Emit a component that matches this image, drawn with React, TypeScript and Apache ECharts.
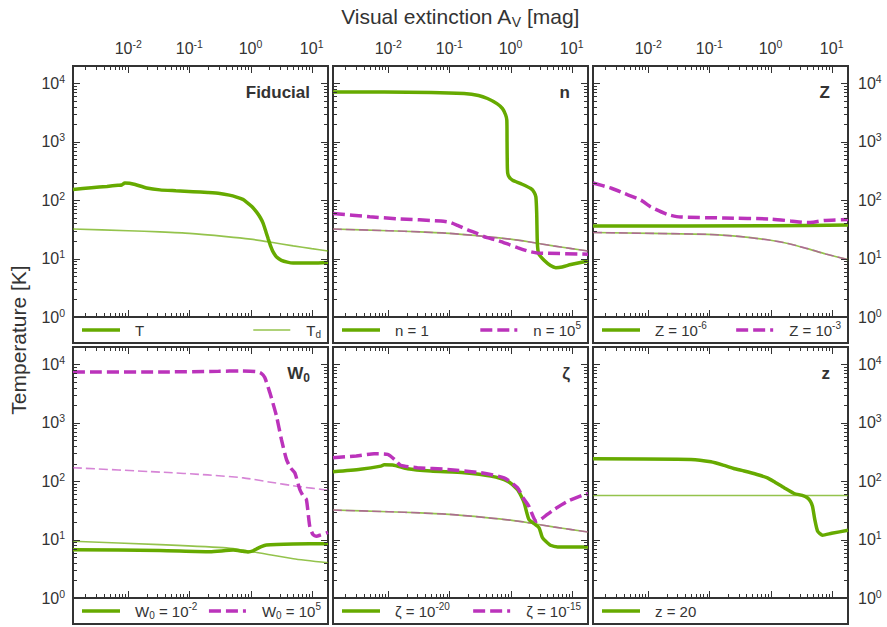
import React, { useEffect, useRef } from 'react';
import * as echarts from 'echarts';

const FONT = '"Liberation Sans", Arial, Helvetica, sans-serif';
const INK = '#333333';
const GREEN = '#66aa00';
const MAGENTA = '#bb33bb';

// Axis ranges and ticks
const X_MIN = 0.00125;
const X_MAX = 18.5;
const Y_MIN = 1;
const Y_MAX = 19800;
const X_DECADES = [-3, -2, -1, 0, 1];
const Y_DECADES = [0, 1, 2, 3, 4];
const MINOR_STEPS = [2, 3, 4, 5, 6, 7, 8, 9];

// Texts
const X_TITLE = 'Visual extinction A{sub|V} [mag]';
const Y_TITLE = 'Temperature [K]';
const PANEL_TITLES = ['Fiducial', 'n', 'Z', 'W{sub|0}', 'ζ', 'z'];
const LEGEND_LEFT = ['T', 'n = 1', 'Z = 10{sup|-6}', 'W{sub|0} = 10{sup|-2}', 'ζ = 10{sup|-20}', 'z = 20'];
const LEGEND_RIGHT = ['T{sub|d}', 'n = 10{sup|5}', 'Z = 10{sup|-3}', 'W{sub|0} = 10{sup|5}', 'ζ = 10{sup|-15}', ''];

type Pt = [number, number];

// Fiducial
const fiducialT: Pt[] = [[0.00125, 152], [0.0025, 163], [0.0045, 172], [0.0068, 180], [0.0078, 182], [0.0088, 196], [0.0105, 195], [0.013, 185], [0.02, 162], [0.033, 150], [0.06, 145], [0.115, 140], [0.2, 135], [0.315, 130], [0.45, 122], [0.59, 113], [0.75, 103], [0.86, 93], [1.05, 78], [1.25, 63], [1.45, 50], [1.61, 40], [1.8, 28], [1.94, 22], [2.15, 16], [2.34, 13], [2.7, 10.5], [3.2, 9.35], [4.0, 8.7], [4.97, 8.4], [10.5, 8.4], [18.5, 8.6]];
const fiducialTd: Pt[] = [[0.00125, 32], [0.01, 30], [0.033, 28.6], [0.1, 27], [0.4, 23.8], [1, 21.5], [2.07, 19.2], [5, 16.5], [10, 14.8], [18.5, 13.5]];

// n
const n1T: Pt[] = [[0.00125, 7130], [0.05, 7000], [0.174, 6690], [0.3, 6200], [0.42, 5500], [0.6, 4500], [0.74, 3700], [0.83, 2900], [0.87, 2340], [0.878, 1000], [0.886, 400], [0.9, 290], [0.95, 250], [1.08, 219], [1.5, 190], [2.15, 158], [2.45, 135], [2.6, 113], [2.68, 60], [2.75, 18], [2.9, 12], [3.54, 9.35], [4.5, 7.6], [5.5, 7.0], [7, 7.2], [9.7, 7.9], [18.5, 9.1]];
const n5T: Pt[] = [[0.00125, 59], [0.005, 52], [0.0143, 48], [0.0726, 44], [0.1, 42], [0.136, 37], [0.2, 31], [0.289, 26.8], [0.4, 23], [0.61, 20.6], [1, 17], [1.3, 15.4], [2, 13.3], [2.75, 12.5], [18.5, 11.9]];

// Z
const z6T: Pt[] = [[0.00125, 36], [1, 36.5], [18.5, 37.5]];
const z3T: Pt[] = [[0.00125, 197], [0.0025, 160], [0.0041, 130], [0.0076, 100], [0.011, 76.5], [0.0207, 57], [0.034, 51.5], [0.175, 49.6], [1.0, 47.6], [2.15, 44], [4.0, 41.3], [5, 42], [7.5, 45], [18.5, 46.5]];
const zTd: Pt[] = [[0.00125, 27.9], [0.093, 26], [0.3, 24], [1.0, 20.6], [2, 18], [4.0, 14.8], [8, 12], [18.5, 9.6]];

// W0
const w5T: Pt[] = [[0.00125, 7400], [0.033, 7400], [0.3, 7600], [0.67, 7700], [1.25, 7520], [1.5, 7000], [1.71, 5940], [2.07, 3280], [2.66, 1300], [3.2, 519], [3.87, 236], [4.5, 170], [5.3, 139], [6.4, 72], [7.3, 55], [8.2, 48.5], [9.3, 16.9], [10.5, 12.2], [12, 11.4], [14, 12], [18.5, 13.3]];
const w5Td: Pt[] = [[0.00125, 170], [0.033, 143], [0.2, 128], [0.76, 114], [2, 97], [5.65, 82], [18.5, 70]];
const w2T: Pt[] = [[0.00125, 6.7], [0.033, 6.5], [0.216, 6.2], [0.52, 6.6], [0.75, 6.3], [0.91, 6.15], [1.1, 6.4], [1.25, 6.9], [1.5, 7.6], [1.82, 8.1], [5.0, 8.4], [18.5, 8.5]];
const w2Td: Pt[] = [[0.00125, 9.35], [0.033, 8.2], [0.405, 7.2], [1.42, 5.9], [5.0, 4.7], [18.5, 4.0]];

// zeta
const zeta20T: Pt[] = [[0.00125, 145], [0.0035, 160], [0.0076, 181], [0.0086, 191], [0.0118, 190], [0.0207, 163], [0.05, 149], [0.175, 139], [0.476, 122], [0.89, 100], [1.3, 72], [1.5, 55], [1.67, 42.6], [2.0, 22], [2.4, 19], [2.93, 15.9], [3.3, 11], [3.77, 9.35], [4.5, 8], [5.9, 7.5], [18.5, 7.5]];
const zeta15T: Pt[] = [[0.00125, 252], [0.003, 270], [0.0059, 295], [0.0098, 287], [0.013, 230], [0.016, 186], [0.03, 170], [0.093, 159], [0.327, 139], [0.785, 114], [1.3, 77], [1.6, 52], [2.0, 37], [2.3, 26], [2.6, 20.6], [3.1, 22], [4, 27], [5.15, 32.7], [8.5, 45], [15.9, 59], [18.5, 61]];

// redshift z
const red20T: Pt[] = [[0.00125, 242], [0.05, 236], [0.106, 215], [0.175, 186], [0.25, 165], [0.37, 149], [0.6, 130], [0.89, 114], [1.2, 95], [1.67, 77], [2.43, 61.5], [3.3, 57], [4.0, 52], [4.5, 45], [4.86, 37], [5.3, 22], [5.9, 13.9], [7.1, 11.9], [10, 12.8], [18.5, 14.4]];
const red20Td: Pt[] = [[0.00125, 57], [18.5, 57]];

type LineDef = { data: Pt[]; color: string; thick: boolean; dashed: boolean };
const L = (data: Pt[], color: string, thick: boolean, dashed: boolean): LineDef => ({ data, color, thick, dashed });

const PANEL_LINES: LineDef[][] = [
  [L(fiducialTd, GREEN, false, false), L(fiducialT, GREEN, true, false)],
  [L(fiducialTd, GREEN, false, false), L(fiducialTd, MAGENTA, false, true), L(n1T, GREEN, true, false), L(n5T, MAGENTA, true, true)],
  [L(zTd, GREEN, false, false), L(zTd, MAGENTA, false, true), L(z6T, GREEN, true, false), L(z3T, MAGENTA, true, true)],
  [L(w2Td, GREEN, false, false), L(w5Td, MAGENTA, false, true), L(w2T, GREEN, true, false), L(w5T, MAGENTA, true, true)],
  [L(fiducialTd, GREEN, false, false), L(fiducialTd, MAGENTA, false, true), L(zeta20T, GREEN, true, false), L(zeta15T, MAGENTA, true, true)],
  [L(red20Td, GREEN, false, false), L(red20T, GREEN, true, false)],
];
const LEGEND_LEFT_STYLE: LineDef[] = [0, 1, 2, 3, 4, 5].map(() => L([], GREEN, true, false));
const LEGEND_RIGHT_STYLE: LineDef[] = [L([], GREEN, false, false), L([], MAGENTA, true, true), L([], MAGENTA, true, true), L([], MAGENTA, true, true), L([], MAGENTA, true, true), L([], MAGENTA, true, true)];

// Layout
const COL_X = [73, 333, 593];
const ROW_Y = [66, 347];
const PW = 255;
const PH = 251;
const LEG_H = 26;

const THICK_W = 3.5;
const THIN_W = 1.6;
const THICK_DASH = [12, 5];
const THIN_DASH = [9, 4];

const richStyles = (small: number, weight: string) => ({
  sup: { fontSize: small, fontFamily: FONT, fontWeight: weight, fill: INK, verticalAlign: 'top' },
  sub: { fontSize: small, fontFamily: FONT, fontWeight: weight, fill: INK, verticalAlign: 'bottom' },
});

const measureRich = (s: string, base: number, small: number, weight = 'normal') => {
  const ctx = document.createElement('canvas').getContext('2d') as CanvasRenderingContext2D;
  const re = /\{(sup|sub)\|([^}]*)\}/g;
  let w = 0;
  let last = 0;
  let m: RegExpExecArray | null;
  while ((m = re.exec(s))) {
    if (m.index > last) {
      ctx.font = `${weight} ${base}px ${FONT}`;
      w += ctx.measureText(s.slice(last, m.index)).width;
    }
    ctx.font = `${weight} ${small}px ${FONT}`;
    w += ctx.measureText(m[2]).width;
    last = re.lastIndex;
  }
  if (last < s.length) {
    ctx.font = `${weight} ${base}px ${FONT}`;
    w += ctx.measureText(s.slice(last)).width;
  }
  return w;
};

const richText = (text: string, x: number, y: number, size: number, small: number, align: string, weight = 'normal', rotation = 0) => ({
  type: 'text',
  x,
  y,
  rotation,
  z: 10,
  silent: true,
  style: {
    text,
    fontSize: size,
    fontFamily: FONT,
    fontWeight: weight,
    fill: INK,
    align,
    textAlign: align,
    verticalAlign: 'middle',
    textVerticalAlign: 'middle',
    lineHeight: size + 4,
    rich: richStyles(small, weight),
  },
});

const powLabel = (v: number) => {
  const e = Math.log10(v);
  const r = Math.round(e);
  if (Math.abs(e - r) > 1e-6) return '';
  return '10{sup|' + r + '}';
};

const labelStyle = (show: boolean, margin: number) => ({
  show,
  margin,
  formatter: powLabel,
  fontSize: 16,
  fontFamily: FONT,
  color: INK,
  lineHeight: 20,
  rich: {
    sup: { fontSize: 10.5, fontFamily: FONT, color: INK, verticalAlign: 'top' },
  },
});

function buildTickData() {
  const data: number[][] = [];
  X_DECADES.forEach((d) => {
    const base = Math.pow(10, d);
    if (base >= X_MIN && base <= X_MAX) data.push([base, Y_MIN, 1, 1]);
    MINOR_STEPS.forEach((s) => {
      const v = s * base;
      if (v >= X_MIN && v <= X_MAX) data.push([v, Y_MIN, 1, 0]);
    });
  });
  Y_DECADES.forEach((d) => {
    const base = Math.pow(10, d);
    if (base >= Y_MIN && base <= Y_MAX) data.push([X_MIN, base, 0, 1]);
    MINOR_STEPS.forEach((s) => {
      const v = s * base;
      if (v >= Y_MIN && v <= Y_MAX) data.push([X_MIN, v, 0, 0]);
    });
  });
  return data;
}

function buildOption() {
  const grid: any[] = [];
  const xAxis: any[] = [];
  const yAxis: any[] = [];
  const series: any[] = [];
  const graphic: any[] = [];
  const tickData = buildTickData();

  for (let i = 0; i < 6; i++) {
    const r = Math.floor(i / 3);
    const c = i % 3;
    const left = COL_X[c];
    const top = ROW_Y[r];
    grid.push({ left, top, width: PW, height: PH, show: true, borderColor: INK, borderWidth: 2, backgroundColor: '#fff' });
    xAxis.push({
      type: 'log', gridIndex: i, min: X_MIN, max: X_MAX, position: 'top',
      axisLine: { show: false }, axisTick: { show: false }, splitLine: { show: false },
      axisLabel: labelStyle(r === 0, 8),
    });
    yAxis.push({
      type: 'log', gridIndex: i, min: Y_MIN, max: Y_MAX, position: c === 2 ? 'right' : 'left',
      axisLine: { show: false }, axisTick: { show: false }, splitLine: { show: false },
      axisLabel: labelStyle(c !== 1, c === 2 ? 10 : 8),
    });

    PANEL_LINES[i].forEach((ld, k) => {
      series.push({
        type: 'line',
        xAxisIndex: i,
        yAxisIndex: i,
        data: ld.data,
        showSymbol: false,
        symbol: 'none',
        smooth: 0.2,
        silent: true,
        z: ld.thick ? 4 : 2 + k * 0.1,
        lineStyle: {
          color: ld.color,
          width: ld.thick ? THICK_W : THIN_W,
          type: ld.dashed ? (ld.thick ? THICK_DASH : THIN_DASH) : 'solid',
          opacity: ld.thick ? 1 : ld.color === MAGENTA ? 0.6 : 0.7,
          cap: 'butt',
        },
      });
    });

    series.push({
      type: 'custom',
      xAxisIndex: i,
      yAxisIndex: i,
      silent: true,
      z: 6,
      encode: { x: 0, y: 1 },
      data: tickData,
      renderItem: (params: any, api: any) => {
        const cs = params.coordSys;
        const isX = api.value(2) === 1;
        const len = api.value(3) === 1 ? 7 : 4;
        const style = { stroke: INK, lineWidth: 1 };
        if (isX) {
          const x = Math.round(api.coord([api.value(0), Y_MIN])[0]) + 0.5;
          return {
            type: 'group',
            children: [
              { type: 'line', shape: { x1: x, y1: cs.y, x2: x, y2: cs.y + len }, style },
              { type: 'line', shape: { x1: x, y1: cs.y + cs.height, x2: x, y2: cs.y + cs.height - len }, style },
            ],
          };
        }
        const y = Math.round(api.coord([X_MIN, api.value(1)])[1]) + 0.5;
        return {
          type: 'group',
          children: [
            { type: 'line', shape: { x1: cs.x, y1: y, x2: cs.x + len, y2: y }, style },
            { type: 'line', shape: { x1: cs.x + cs.width, y1: y, x2: cs.x + cs.width - len, y2: y }, style },
          ],
        };
      },
    });

    // legend strip
    const stripTop = top + PH;
    graphic.push({
      type: 'rect', z: 5, silent: true,
      shape: { x: left, y: stripTop, width: PW, height: LEG_H },
      style: { fill: '#fff', stroke: INK, lineWidth: 2 },
    });
    const ly = stripTop + LEG_H / 2;
    const sampleStyle = (ld: LineDef) => ({
      stroke: ld.color,
      lineWidth: ld.thick ? THICK_W : THIN_W,
      lineDash: ld.dashed ? (ld.thick ? THICK_DASH : THIN_DASH) : null,
      opacity: ld.thick ? 1 : 0.7,
    });
    graphic.push({ type: 'line', z: 10, silent: true, shape: { x1: left + 9, y1: ly, x2: left + 47, y2: ly }, style: sampleStyle(LEGEND_LEFT_STYLE[i]) });
    graphic.push(richText(LEGEND_LEFT[i], left + 62, ly, 15, 10, 'left'));
    if (LEGEND_RIGHT[i]) {
      const tr = left + PW - 7;
      const w = measureRich(LEGEND_RIGHT[i], 15, 10);
      const x2 = tr - w - 16;
      graphic.push({ type: 'line', z: 10, silent: true, shape: { x1: x2 - 37, y1: ly, x2, y2: ly }, style: sampleStyle(LEGEND_RIGHT_STYLE[i]) });
      graphic.push(richText(LEGEND_RIGHT[i], tr, ly, 15, 10, 'right'));
    }

    // panel title
    graphic.push(richText(PANEL_TITLES[i], left + PW - 18, top + 26, 17, 12, 'right', 'bold'));
  }

  graphic.push(richText(X_TITLE, 460, 16, 21, 14, 'center'));
  graphic.push(richText(Y_TITLE, 18, 340, 21, 14, 'center', 'normal', Math.PI / 2));

  return {
    animation: false,
    backgroundColor: '#ffffff',
    textStyle: { fontFamily: FONT },
    grid,
    xAxis,
    yAxis,
    series,
    graphic,
  };
}

export default function App() {
  const ref = useRef<HTMLDivElement>(null);
  useEffect(() => {
    if (!ref.current) return;
    const chart = echarts.init(ref.current, undefined, { renderer: 'svg' });
    chart.setOption(buildOption() as any);
    return () => chart.dispose();
  }, []);
  return <div ref={ref} style={{ position: 'fixed', left: 0, top: 0, width: 887, height: 627, background: '#fff' }} />;
}
